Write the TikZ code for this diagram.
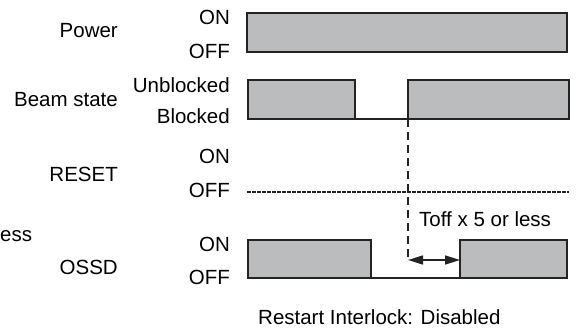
\documentclass[tikz,border=0pt]{standalone}
\usepackage{fontspec}
\setmainfont{Liberation Sans}
\usetikzlibrary{arrows.meta}
\definecolor{sig}{RGB}{187,188,190}
\definecolor{ln}{RGB}{35,35,35}
\begin{document}
\begin{tikzpicture}[x=1pt,y=-1pt,
  lbl/.style={font=\fontsize{20.5}{22}\selectfont,inner sep=0pt,text=black},
  sigbox/.style={draw=ln,fill=sig,line width=1.6pt},
  sigline/.style={draw=ln,line width=1.6pt},
  guide/.style={draw=ln,line width=1.3pt,dash pattern=on 8pt off 5pt},
  fine/.style={draw=ln,line width=1.3pt,dash pattern=on 4pt off 1pt},
  arr/.style={ln,line width=1.6pt,{Triangle[length=15pt,width=9pt]}-{Triangle[length=15pt,width=9pt]}}]
\useasboundingbox (0,0) rectangle (579,331);
% left labels
\node[lbl,anchor=base east] (power) at (118,38) {Power};
\node[lbl,anchor=base east] (beam) at (118,107) {Beam state};
\node[lbl,anchor=base east] (reset) at (118,182) {RESET};
\node[lbl,anchor=base east] (ossd) at (118,275) {OSSD};
\node[lbl,anchor=base west] (ess) at (0,242) {ess};
% state labels
\node[lbl,anchor=base east] (pon) at (230,25) {ON};
\node[lbl,anchor=base east] (poff) at (230,59) {OFF};
\node[lbl,anchor=base east] (bun) at (230,93) {Unblocked};
\node[lbl,anchor=base east] (bbl) at (230,124) {Blocked};
\node[lbl,anchor=base east] (ron) at (230,164) {ON};
\node[lbl,anchor=base east] (roff) at (230,198) {OFF};
\node[lbl,anchor=base east] (oon) at (230,252) {ON};
\node[lbl,anchor=base east] (ooff) at (230,285) {OFF};
% power
\path[sigbox] (247,13) rectangle (567,52);
% beam state
\path[sigbox] (248,80) rectangle (355,119);
\path[sigbox] (408,80) rectangle (569,119);
\path[sigline] (355,119) -- (408,119);
% reset
\path[fine] (247,192) -- (569,192);
% ossd
\path[sigbox] (248,240) rectangle (371,278);
\path[sigbox] (460,240) rectangle (567,278);
\path[sigline] (371,278) -- (460,278);
% timing
\coordinate (t0) at (408,119);
\coordinate (t1) at (408,260);
\coordinate (t2) at (460,260);
\path[guide] (t0) -- (t1);
\draw[arr] (t1) -- (t2);
\node[lbl,anchor=base west] (toff) at (419,227) {Toff x 5 or less};
\node[lbl,anchor=base west] (ri) at (258,325) {Restart Interlock: Disabled};
\end{tikzpicture}
\end{document}
